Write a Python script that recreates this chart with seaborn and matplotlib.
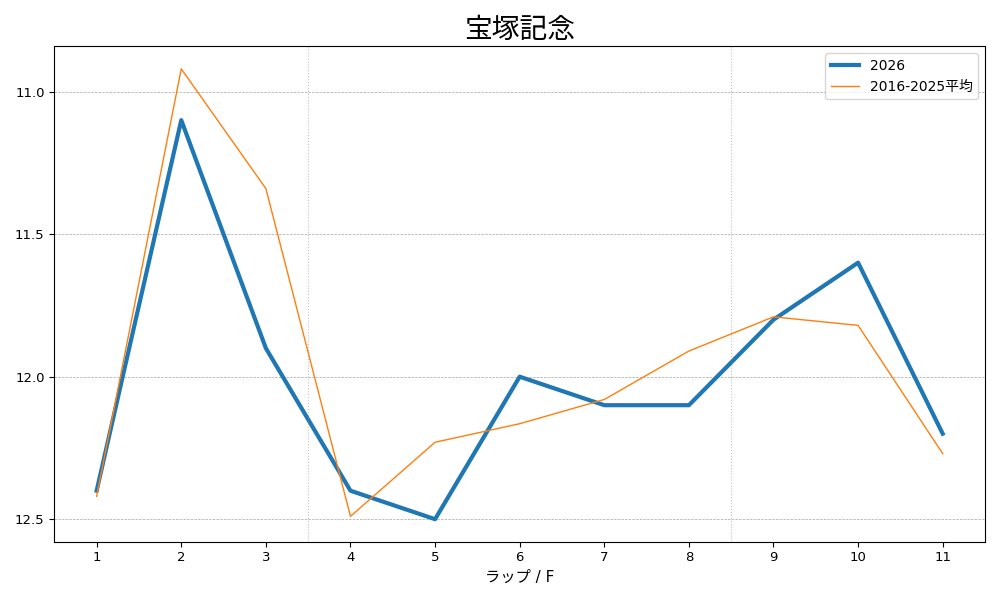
import matplotlib
matplotlib.use("Agg")
import matplotlib.pyplot as plt
import seaborn as sns
import numpy as np

laps = [1, 2, 3, 4, 5, 6, 7, 8, 9, 10, 11]
lap_2026 = [12.4, 11.1, 11.9, 12.4, 12.5, 12.0, 12.1, 12.1, 11.8, 11.6, 12.2]
lap_avg = [12.42, 10.92, 11.34, 12.49, 12.23, 12.165, 12.08, 11.91, 11.79, 11.82, 12.27]
label_2026 = "2026"
label_avg = "2016-2025平均"
title = "宝塚記念"
xlabel = "ラップ / F"
section_marks = [3.5, 8.5]

plt.rcParams['font.family'] = ['DejaVu Sans', 'Noto Sans CJK JP']

fig, ax = plt.subplots(figsize=(10, 6), dpi=100)
sns.lineplot(x=laps, y=lap_2026, ax=ax, color="#1f77b4", linewidth=3, label=label_2026)
sns.lineplot(x=laps, y=lap_avg, ax=ax, color="#ff7f0e", linewidth=1, label=label_avg)

for m in section_marks:
    ax.axvline(m, color="gray", linestyle=":", linewidth=0.8, alpha=0.5)

ax.invert_yaxis()
ax.set_xticks(laps)
ax.set_yticks([11.0, 11.5, 12.0, 12.5])
ax.tick_params(labelsize=9.5)
ax.yaxis.grid(True, linestyle="--", linewidth=0.5, color="gray", alpha=0.7)
ax.set_title(title, fontsize=20, family=['Noto Sans CJK JP', 'DejaVu Sans'])
ax.set_xlabel(xlabel, fontsize=11)
ax.legend(loc="upper right")
fig.tight_layout()
fig.savefig("out.png")
